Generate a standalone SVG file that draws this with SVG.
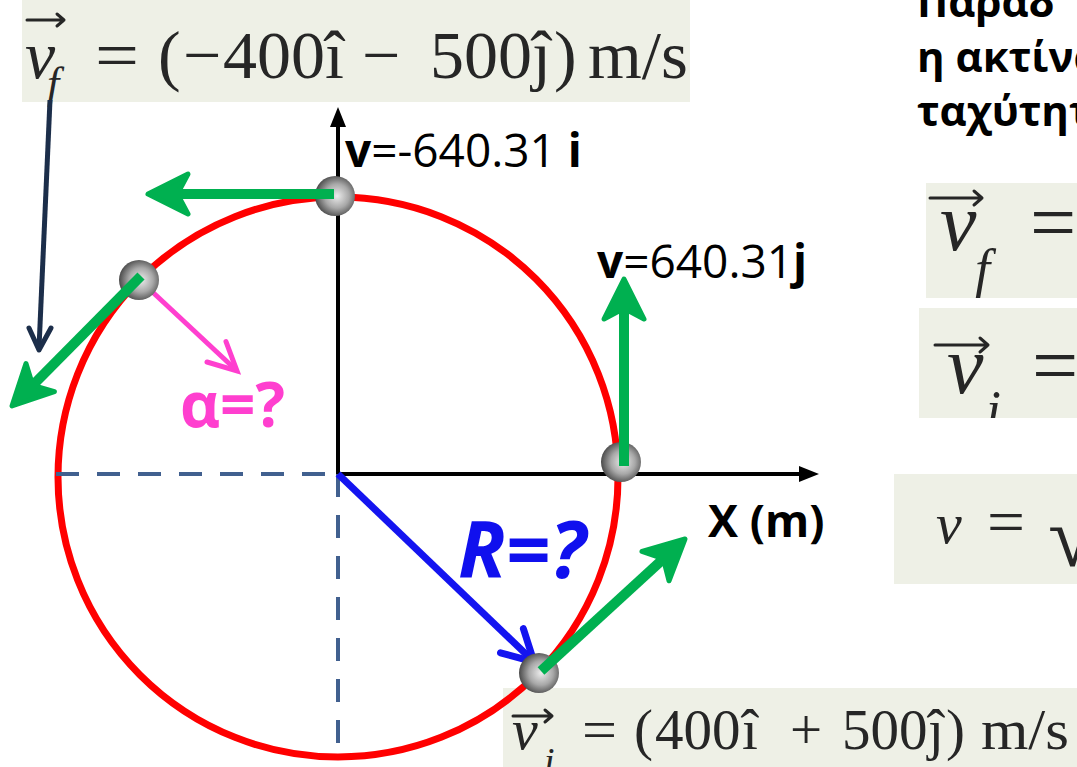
<svg xmlns="http://www.w3.org/2000/svg" width="1077" height="767" viewBox="0 0 1077 767">
<defs>
<style>
.box{fill:#EEF0E6}
.fx{font-family:"Liberation Serif",serif;fill:#262626}
.it{font-style:italic}
.lbl{font-family:"Open Sans","Noto Sans",sans-serif;fill:#000}
.b{font-weight:bold}
.green{stroke:#00B050;stroke-width:10;fill:none}
.ghead{fill:#00B050;stroke:#00B050;stroke-width:5;stroke-linejoin:round}
.dash{stroke:#41608F;stroke-width:4;stroke-dasharray:23 18;fill:none}
.axis{stroke:#000;stroke-width:4;fill:none}
.vec{stroke:#262626;stroke-width:3;fill:none;stroke-linecap:round;stroke-linejoin:round}
</style>
<radialGradient id="ball" cx="55%" cy="50%" r="55%">
<stop offset="0" stop-color="#ececec"/>
<stop offset="0.55" stop-color="#a8a8a8"/>
<stop offset="1" stop-color="#4a4a4a"/>
</radialGradient>
<clipPath id="c1"><rect x="926" y="183" width="151" height="115"/></clipPath>
<clipPath id="c2"><rect x="919" y="308" width="158" height="110"/></clipPath>
</defs>
<rect width="1077" height="767" fill="#fff"/>

<g id="formula-vf-top">
<rect class="box" x="22" y="0" width="668" height="102"/>
<text class="fx it" x="25" y="78" font-size="68">v</text>
<path class="vec" d="M27 20 H64 M57 14 L64 20 L57 26"/>
<text class="fx it" x="47" y="98" font-size="44">f</text>
<text class="fx" font-size="68" y="78"><tspan x="95" textLength="44" lengthAdjust="spacingAndGlyphs">=</tspan><tspan x="158">(</tspan><tspan x="183">−</tspan><tspan x="223">400</tspan><tspan x="325">î</tspan><tspan x="362">−</tspan><tspan x="430">500</tspan><tspan x="532">ĵ</tspan><tspan x="554">)</tspan><tspan x="588" textLength="100" lengthAdjust="spacingAndGlyphs">m/s</tspan></text>
</g>

<g id="greek-text">
<text class="lbl b" x="917" y="17" font-size="42">Παραδ</text>
<text class="lbl b" x="917" y="72" font-size="42">η ακτίνα</text>
<text class="lbl b" x="917" y="126" font-size="42">ταχύτητα</text>
</g>

<g id="formula-vf-right" clip-path="url(#c1)">
<rect class="box" x="926" y="183" width="151" height="115"/>
<text class="fx it" x="940" y="250" font-size="82">v</text>
<path class="vec" d="M930 198 H982 M974 191 L982 198 L974 205"/>
<text class="fx it" x="975" y="287" font-size="54">f</text>
<text class="fx" x="1030" y="250" font-size="82">=</text>
</g>

<g id="formula-vi-right" clip-path="url(#c2)">
<rect class="box" x="919" y="308" width="158" height="110"/>
<text class="fx it" x="947" y="393" font-size="82">v</text>
<path class="vec" d="M935 345 H988 M980 338 L988 345 L980 352"/>
<text class="fx it" x="986" y="428" font-size="54">i</text>
<text class="fx" x="1032" y="393" font-size="82">=</text>
</g>

<g id="formula-v-mag">
<rect class="box" x="894" y="474" width="183" height="110"/>
<text class="fx it" x="936" y="543" font-size="58">v</text>
<text class="fx" x="987" y="543" font-size="64" textLength="38" lengthAdjust="spacingAndGlyphs">=</text>
<text class="fx" x="1048" y="566" font-size="88">√</text>
</g>

<g id="formula-vi-bottom">
<rect class="box" x="503" y="688" width="574" height="79"/>
<text class="fx it" x="512" y="749" font-size="58">v</text>
<path class="vec" d="M513 716 H552 M545 710 L552 716 L545 722"/>
<text class="fx it" x="544" y="774" font-size="38">i</text>
<text class="fx" font-size="57" y="749"><tspan x="582" textLength="35" lengthAdjust="spacingAndGlyphs">=</tspan><tspan x="634">(</tspan><tspan x="655">400</tspan><tspan x="742">î</tspan><tspan x="790">+</tspan><tspan x="842">500</tspan><tspan x="928">ĵ</tspan><tspan x="946">)</tspan><tspan x="981" textLength="88" lengthAdjust="spacingAndGlyphs">m/s</tspan></text>
</g>

<g id="circle-path">
<circle cx="338" cy="477" r="280" fill="none" stroke="#FF0000" stroke-width="7"/>
</g>

<g id="connectors">
<path class="dash" d="M56 474 H338"/>
<path class="dash" d="M338 474 V757"/>
<path class="axis" d="M338 474 V124"/>
<polygon points="338,107 330,127 346,127" fill="#000"/>
<path class="axis" d="M338 474 H802"/>
<polygon points="819,474 799,466 799,482" fill="#000"/>
<path d="M338 474 L530 658" stroke="#1414F0" stroke-width="7" fill="none"/>
<polyline points="500.5,652.8 534,662 523.4,628.7" stroke="#1414F0" stroke-width="7" fill="none" stroke-linecap="round"/>
<path d="M145 285 L235 369" stroke="#FF3FCF" stroke-width="5" fill="none"/>
<polyline points="207,362 237,371 226,341.6" stroke="#FF3FCF" stroke-width="5" fill="none" stroke-linecap="round"/>
<path d="M50 100 L39 348" stroke="#1C2E4A" stroke-width="5" fill="none"/>
<polyline points="29,328 39,350 51,328" stroke="#1C2E4A" stroke-width="5" fill="none" stroke-linecap="round" stroke-linejoin="round"/>
</g>

<g id="ball-top"><circle cx="335" cy="196" r="20" fill="url(#ball)"/></g>
<g id="ball-left"><circle cx="139" cy="280" r="20" fill="url(#ball)"/></g>
<g id="ball-right"><circle cx="621" cy="462" r="20" fill="url(#ball)"/></g>
<g id="ball-bottom"><circle cx="539" cy="673" r="20" fill="url(#ball)"/></g>

<g id="velocity-arrows">
<path class="green" d="M334 194 H182"/>
<polygon class="ghead" points="148,194 188,174 180,189 180,199 188,214"/>
<path class="green" d="M624 466 V312"/>
<polygon class="ghead" points="624,279 644,319 629,311 619,311 604,319"/>
<path class="green" d="M141 276 L35 383"/>
<polygon class="ghead" points="12,406 25.98,363.51 30.99,379.76 38.09,386.8 54.38,391.69"/>
<path class="green" d="M541 671 L661 561"/>
<polygon class="ghead" points="685,539 669.03,580.79 664.79,564.32 658.03,556.94 641.99,551.29"/>
</g>

<g id="labels">
<text class="lbl" x="345" y="167" font-size="46"><tspan class="b">v</tspan>=-640.31 <tspan class="b">i</tspan></text>
<text class="lbl" x="597" y="278" font-size="46"><tspan class="b">v</tspan>=640.31<tspan class="b">j</tspan></text>
<text class="lbl b" x="708" y="537" font-size="45">X (m)</text>
<text class="lbl b" x="180" y="427" font-size="62" style="fill:#FF3FCF">α=?</text>
<text class="lbl b" x="458" y="578" font-size="78" font-style="italic" style="fill:#1010EE">R=?</text>
</g>
</svg>
